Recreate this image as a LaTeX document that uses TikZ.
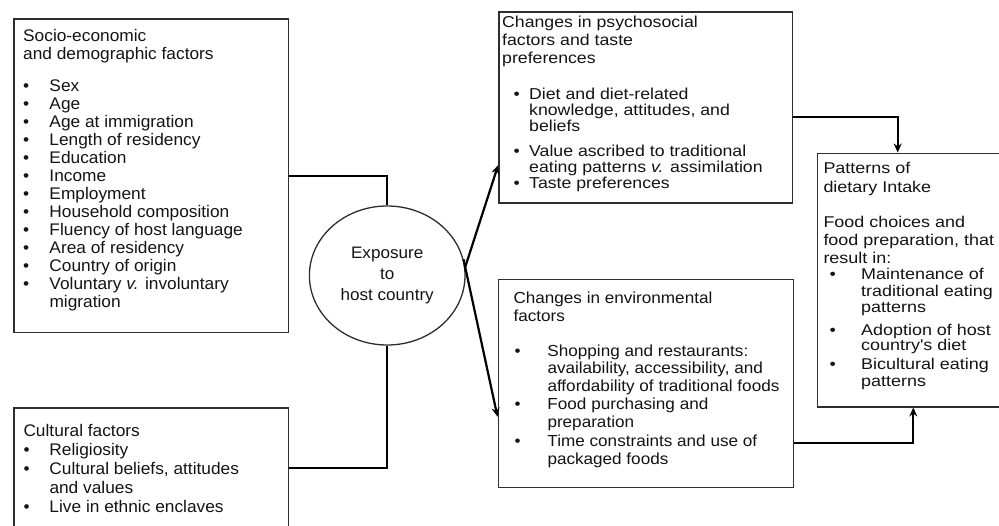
\documentclass[tikz,border=0pt]{standalone}
\usepackage{fontspec}
\setmainfont{Liberation Sans}
\newfontfamily\fA[FakeStretch=1.03]{Liberation Sans}
\newfontfamily\fC[FakeStretch=1.12]{Liberation Sans}
\newfontfamily\fD[FakeStretch=1.15]{Liberation Sans}
\newfontfamily\fE[FakeStretch=1.07]{Liberation Sans}
\usetikzlibrary{shapes.geometric,arrows.meta}
\definecolor{boxline}{HTML}{2E2E2E}
\definecolor{txt}{HTML}{141414}
\newcommand{\bu}[2]{\hspace*{#1}\makebox[#2][l]{\textbullet}}
\newcommand{\ci}[1]{\hspace*{#1}}
\begin{document}
\begin{tikzpicture}[x=1pt,y=-1pt,
  box/.style={draw=boxline,line width=1.6pt,rectangle,inner sep=0pt},
  oval/.style={draw=boxline,line width=1.3pt,ellipse,inner sep=0pt,text=txt,align=center,
    font=\fA\fontsize{16.6}{21}\selectfont},
  conn/.style={line width=2.2pt,black},
  arr/.style={conn,-{Stealth[length=9pt,width=8pt]}},
  txtblock/.style={anchor=north west,inner sep=0pt,align=left,text=txt}]
\useasboundingbox (0,0) rectangle (999,525);
\clip (0,0) rectangle (999,525);
\fill[white] (0,0) rectangle (999,525);

% boxes
\node[box,minimum width=274.3pt,minimum height=313.3pt] (A) at (151.15,175.65) {};
\node[box,minimum width=274.3pt,minimum height=121.3pt] (B) at (151.15,468.35) {};
\node[box,minimum width=293.3pt,minimum height=191pt] (C) at (645.65,107.2) {};
\node[box,minimum width=295pt,minimum height=208pt] (E) at (645.8,383.3) {};
\node[box,minimum width=187.7pt,minimum height=253.4pt] (D) at (911.15,280) {};
\node[oval,minimum width=155.6pt,minimum height=139pt] (circ) at (387.2,275.5)
  {Exposure\\to\\host country};

% texts
\node[txtblock,font=\fA\fontsize{16.8}{18}\selectfont] (tA) at (23,28.4) {\strut Socio-economic\\
and demographic factors\\[14pt]
\bu{0pt}{26.3pt}Sex\\
\bu{0pt}{26.3pt}Age\\
\bu{0pt}{26.3pt}Age at immigration\\
\bu{0pt}{26.3pt}Length of residency\\
\bu{0pt}{26.3pt}Education\\
\bu{0pt}{26.3pt}Income\\
\bu{0pt}{26.3pt}Employment\\
\bu{0pt}{26.3pt}Household composition\\
\bu{0pt}{26.3pt}Fluency of host language\\
\bu{0pt}{26.3pt}Area of residency\\
\bu{0pt}{26.3pt}Country of origin\\
\bu{0pt}{26.3pt}Voluntary \textit{v.} involuntary\\
\ci{26.3pt}migration};

\node[txtblock,font=\fA\fontsize{16.8}{19}\selectfont] (tB) at (23.3,423.4) {\strut Cultural factors\\
\bu{0pt}{26pt}Religiosity\\
\bu{0pt}{26pt}Cultural beliefs, attitudes\\
\ci{26pt}and values\\
\bu{0pt}{26pt}Live in ethnic enclaves};

\node[txtblock,font=\fC\fontsize{15.8}{18}\selectfont] (tC) at (502,14.4) {\strut Changes in psychosocial\\
factors and taste\\
preferences\\[18pt]
\bu{11.5pt}{15.5pt}Diet and diet-related\\[-2pt]
\ci{27pt}knowledge, attitudes, and\\[-1.5pt]
\ci{27pt}beliefs\\[7pt]
\bu{11.5pt}{15.5pt}Value ascribed to traditional\\[-2.5pt]
\ci{27pt}eating patterns \textit{v.} assimilation\\[-2pt]
\bu{11.5pt}{15.5pt}Taste preferences};

\node[txtblock,font=\fE\fontsize{16}{17.5}\selectfont] (tE) at (513.3,291) {\strut Changes in environmental\\[1pt]
factors\\[16.7pt]
\bu{1.2pt}{32.8pt}Shopping and restaurants:\\
\ci{34pt}availability, accessibility, and\\
\ci{34pt}affordability of traditional foods\\[1pt]
\bu{1.2pt}{32.8pt}Food purchasing and\\
\ci{34pt}preparation\\[2pt]
\bu{1.2pt}{32.8pt}Time constraints and use of\\
\ci{34pt}packaged foods};

\node[txtblock,font=\fD\fontsize{15.6}{17.5}\selectfont] (tD) at (823.3,161) {\strut Patterns of\\[1.5pt]
dietary Intake\\[17.5pt]
Food choices and\\[1pt]
food preparation, that\\
result in:\\[-1.5pt]
\bu{6.2pt}{31.5pt}Maintenance of\\
\ci{37.7pt}traditional eating\\[-1.5pt]
\ci{37.7pt}patterns\\[4.7pt]
\bu{6.2pt}{31.5pt}Adoption of host\\[-1.8pt]
\ci{37.7pt}country's diet\\[1pt]
\bu{6.2pt}{31.5pt}Bicultural eating\\[-0.8pt]
\ci{37.7pt}patterns};

% connectors
\coordinate (aOut) at (288.3,175.6);
\coordinate (bOut) at (288.3,468.3);
\coordinate (cOut) at (792.3,116.7);
\coordinate (dTop) at (897.7,153.3);
\coordinate (eOut) at (793.3,442.7);
\coordinate (dBot) at (913.3,406.7);
\coordinate (cIn) at (499,165);
\coordinate (eIn) at (498.3,416.7);

\draw[conn] (A.east |- aOut) -| (circ.north);
\draw[conn] (B.east |- bOut) -| (circ.south);
\draw[arr] (C.east |- cOut) -| (D.north -| dTop);
\draw[arr] (E.east |- eOut) -| (D.south -| dBot);
\draw[arr] (circ.6) -- (C.west |- cIn);
\draw[arr] (circ.12) -- (E.west |- eIn);
\end{tikzpicture}
\end{document}
